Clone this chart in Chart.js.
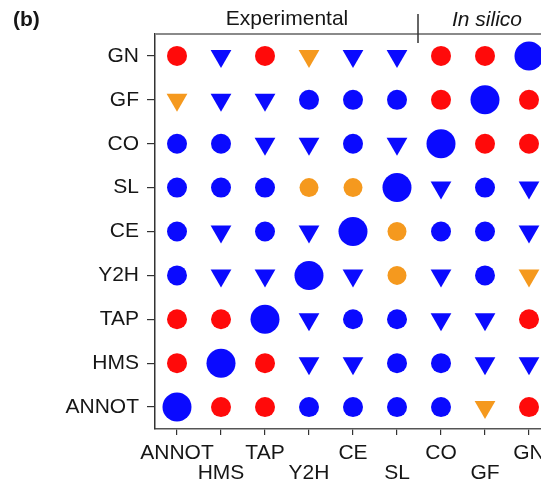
<!DOCTYPE html>
<html lang="en">
<head>
    <meta charset="UTF-8">
    <title>Dataset comparison</title>
    <script src="https://cdn.jsdelivr.net/npm/chart.js"></script>
    <style>
        html, body { margin: 0; padding: 0; overflow: hidden; background: #fff; }
    </style>
</head>
<body>
<canvas id="grid" width="580" height="482"></canvas>

<script>
    // categories (same order on both axes, bottom->top and left->right)
    const cats = ['ANNOT', 'HMS', 'TAP', 'Y2H', 'CE', 'SL', 'CO', 'GF', 'GN'];

    // marker codes per row, columns ANNOT..GN
    // R red circle, B blue circle, O orange circle, b blue triangle, o orange triangle, D big blue circle
    const rowANNOT = ['D', 'R', 'R', 'B', 'B', 'B', 'B', 'o', 'R'];
    const rowHMS   = ['R', 'D', 'R', 'b', 'b', 'B', 'B', 'b', 'b'];
    const rowTAP   = ['R', 'R', 'D', 'b', 'B', 'B', 'b', 'b', 'R'];
    const rowY2H   = ['B', 'b', 'b', 'D', 'b', 'O', 'b', 'B', 'o'];
    const rowCE    = ['B', 'b', 'B', 'b', 'D', 'O', 'B', 'B', 'b'];
    const rowSL    = ['B', 'B', 'B', 'O', 'O', 'D', 'b', 'B', 'b'];
    const rowCO    = ['B', 'B', 'b', 'b', 'B', 'b', 'D', 'R', 'R'];
    const rowGF    = ['o', 'b', 'b', 'B', 'B', 'B', 'R', 'D', 'R'];
    const rowGN    = ['R', 'b', 'R', 'o', 'b', 'b', 'R', 'R', 'D'];

    const rows = [rowANNOT, rowHMS, rowTAP, rowY2H, rowCE, rowSL, rowCO, rowGF, rowGN];

    const RED = '#ff0a0a', BLUE = '#0a0aff', ORANGE = '#f5991e';
    const markStyle = {
        R: { style: 'circle', color: RED, r: 10, rot: 0 },
        B: { style: 'circle', color: BLUE, r: 10, rot: 0 },
        O: { style: 'circle', color: ORANGE, r: 9.5, rot: 0 },
        D: { style: 'circle', color: BLUE, r: 14.5, rot: 0 },
        b: { style: 'triangle', color: BLUE, r: 12, rot: 180 },
        o: { style: 'triangle', color: ORANGE, r: 12, rot: 180 }
    };

    const pts = [], styles = [], colors = [], radii = [], rots = [];
    rows.forEach((row, yi) => {
        row.forEach((code, xi) => {
            const m = markStyle[code];
            pts.push({ x: xi, y: yi });
            styles.push(m.style);
            colors.push(m.color);
            radii.push(m.r);
            rots.push(m.rot);
        });
    });

    const FONT = '"Liberation Sans", Arial, Helvetica, sans-serif';
    const TXT = '#161616';

    // header text + top frame line
    const header = {
        id: 'header',
        afterDraw(chart) {
            const c = chart.ctx, a = chart.chartArea;
            c.save();
            c.strokeStyle = '#8a8a8a';
            c.lineWidth = 2;
            c.beginPath();
            c.moveTo(a.left, a.top);
            c.lineTo(chart.width, a.top);
            c.stroke();

            c.strokeStyle = '#333';
            c.lineWidth = 1.5;
            c.beginPath();
            c.moveTo(418, 14);
            c.lineTo(418, 43);
            c.stroke();

            c.fillStyle = TXT;
            c.textBaseline = 'middle';
            c.font = 'bold 21px ' + FONT;
            c.textAlign = 'left';
            c.fillText('(b)', 13, 20);
            c.font = '21px ' + FONT;
            c.textAlign = 'center';
            c.fillText('Experimental', 287, 19);
            c.font = 'italic 21px ' + FONT;
            c.textAlign = 'left';
            c.fillText('In silico', 452, 20);
            c.restore();
        }
    };

    const ctx = document.getElementById('grid').getContext('2d');
    new Chart(ctx, {
        type: 'scatter',
        data: {
            datasets: [{
                data: pts,
                pointStyle: styles,
                backgroundColor: colors,
                pointRadius: radii,
                pointRotation: rots,
                pointBorderWidth: 0,
                borderWidth: 0,
                showLine: false
            }]
        },
        options: {
            responsive: false,
            animation: false,
            events: [],
            layout: { padding: { left: 0, top: 34, right: 29, bottom: 0 } },
            plugins: { legend: { display: false }, tooltip: { enabled: false } },
            scales: {
                x: {
                    type: 'linear',
                    min: -0.5,
                    max: 8.5,
                    afterBuildTicks: s => { s.ticks = cats.map((c, i) => ({ value: i })); },
                    afterFit: s => { s.height = 53; },
                    grid: { drawOnChartArea: false, drawTicks: true, tickLength: 6, color: '#333', lineWidth: 1.2 },
                    border: { display: true, color: '#555', width: 1.5 },
                    ticks: {
                        autoSkip: false,
                        maxRotation: 0,
                        padding: 8,
                        color: TXT,
                        font: { family: FONT, size: 21, lineHeight: '20px' },
                        callback: v => (v % 2 === 0 ? [cats[v], ''] : ['', cats[v]])
                    }
                },
                y: {
                    type: 'linear',
                    min: -0.5,
                    max: 8.5,
                    afterBuildTicks: s => { s.ticks = cats.map((c, i) => ({ value: i })); },
                    afterFit: s => { s.width = 155; },
                    grid: { drawOnChartArea: false, drawTicks: true, tickLength: 8, color: '#333', lineWidth: 1.2 },
                    border: { display: true, color: '#333', width: 1.5 },
                    ticks: {
                        autoSkip: false,
                        padding: 8,
                        color: TXT,
                        font: { family: FONT, size: 21 },
                        callback: v => cats[v]
                    }
                }
            }
        },
        plugins: [header]
    });
</script>
</body>
</html>
